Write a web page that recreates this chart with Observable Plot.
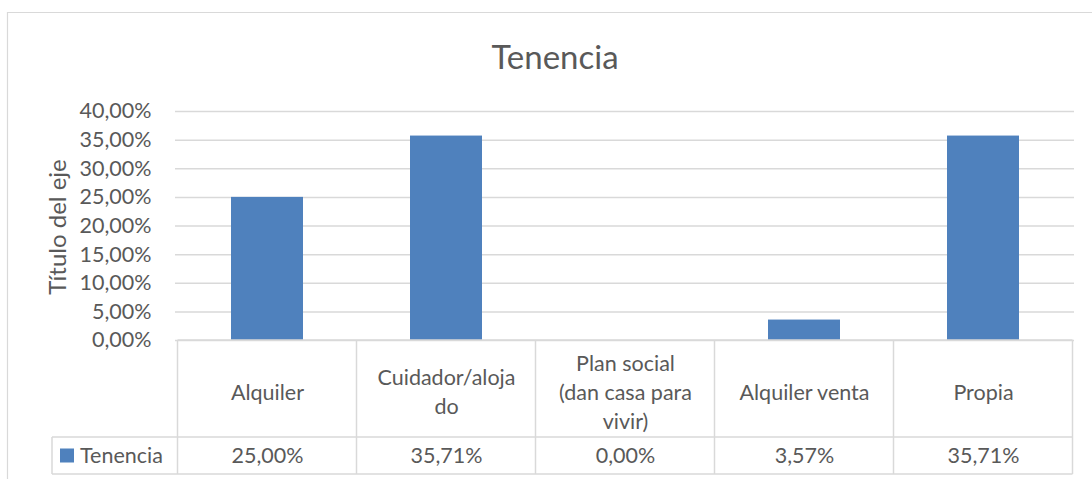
<!DOCTYPE html>
<html><head><meta charset="utf-8">
<script src="https://cdn.jsdelivr.net/npm/d3@7"></script>
<script src="https://cdn.jsdelivr.net/npm/@observablehq/plot@0.6"></script>
<style>
html,body{margin:0;padding:0;background:#fff;overflow:hidden;}
#chart svg{display:block;}
</style></head><body><div id="chart"></div>
<script>
// ---- data ----
const categories = ["Alquiler", "Cuidador/alojado", "Plan social (dan casa para vivir)", "Alquiler venta", "Propia"];
const categoryLabels = ["Alquiler", "Cuidador/aloja\ndo", "Plan social\n(dan casa para\nvivir)", "Alquiler venta", "Propia"];
const values = [0.25, 0.3571, 0.0, 0.0357, 0.3571];
const yTicks = [0, 0.05, 0.10, 0.15, 0.20, 0.25, 0.30, 0.35, 0.40];
const seriesName = "Tenencia";
const chartTitle = "Tenencia";
const yAxisTitle = "Título del eje";

// ---- styles ----
const FONT = "Lato, 'Open Sans', sans-serif";
const GREY = "#595959", LINE = "#d9d9d9", BLUE = "#4f81bd";
const fmt = d => (d * 100).toFixed(2).replace(".", ",") + "%";

const data = categories.map((c, i) => ({category: c, label: categoryLabels[i], value: values[i]}));

function tableMark(index, scales, vals, dim) {
  const x = scales.x;
  const bw = typeof x.bandwidth === "function" ? x.bandwidth() : x.bandwidth;
  const step = x(categories[1]) - x(categories[0]);
  const pad = (step - bw) / 2;
  const lefts = categories.map(c => x(c) - pad);
  const right = lefts[lefts.length - 1] + step;
  const top = dim.height - dim.marginBottom;
  const rowDiv = top + 97;
  const bottom = top + 134;
  const legendLeft = dim.marginLeft - 123;
  const g = d3.create("svg:g").attr("fill", "none").attr("stroke", LINE).attr("stroke-width", 1.5);
  // outer chart frame
  g.append("path").attr("d", `M7.5,${dim.height + 5}V12.5H${dim.width + 5}`).attr("stroke-width", 1.2);
  // table horizontal lines
  g.append("line").attr("x1", lefts[0]).attr("x2", right).attr("y1", top).attr("y2", top);
  g.append("line").attr("x1", legendLeft).attr("x2", right).attr("y1", rowDiv).attr("y2", rowDiv);
  g.append("line").attr("x1", legendLeft).attr("x2", right).attr("y1", bottom).attr("y2", bottom);
  // vertical lines
  [...lefts, right].forEach(lx => g.append("line").attr("x1", lx).attr("x2", lx).attr("y1", top).attr("y2", bottom));
  g.append("line").attr("x1", legendLeft).attr("x2", legendLeft).attr("y1", rowDiv).attr("y2", bottom);
  // legend key
  const mid = (rowDiv + bottom) / 2;
  g.append("rect").attr("x", legendLeft + 8).attr("y", mid - 7).attr("width", 14).attr("height", 14)
    .attr("fill", BLUE).attr("stroke", "none");
  g.append("text").attr("x", legendLeft + 28).attr("y", mid).attr("dy", "0.35em")
    .attr("text-anchor", "start")
    .attr("fill", GREY).attr("stroke", "none").attr("font-family", FONT).attr("font-size", 21.5)
    .text(seriesName);
  return g.node();
}

const plot = Plot.plot({
  width: 1092,
  height: 479,
  marginLeft: 175,
  marginRight: 18,
  marginTop: 111,
  marginBottom: 139,
  style: {fontFamily: FONT, fontSize: "21.5px", color: GREY, background: "#fff"},
  x: {type: "band", domain: categories, paddingInner: 0.6, paddingOuter: 0.3, axis: null},
  y: {domain: [0, 0.4], ticks: yTicks, tickFormat: fmt, label: null},
  marks: [
    Plot.gridY(yTicks, {stroke: LINE, strokeOpacity: 1, strokeWidth: 1.5}),
    Plot.barY(data, {x: "category", y: "value", fill: BLUE}),
    Plot.axisY(yTicks, {tickSize: 0, tickPadding: 24, tickFormat: fmt, fill: GREY, label: null, fontSize: 21.5}),
    tableMark,
    Plot.text(data, {x: "category", text: "label", frameAnchor: "bottom", dy: 50, lineAnchor: "middle", lineHeight: 1.34, fill: GREY, fontSize: 21.5}),
    Plot.text(data, {x: "category", text: d => fmt(d.value), frameAnchor: "bottom", dy: 116, lineAnchor: "middle", fill: GREY, fontSize: 21.5}),
    Plot.text([yAxisTitle], {frameAnchor: "left", dx: -117, dy: 1, rotate: -90, textAnchor: "middle", fill: GREY, fontSize: 24, lineAnchor: "middle"}),
    Plot.text([chartTitle], {frameAnchor: "top", dx: -70, dy: -53, textAnchor: "middle", fill: GREY, fontSize: 33, lineAnchor: "middle"})
  ]
});
document.getElementById("chart").append(plot);
</script></body></html>
